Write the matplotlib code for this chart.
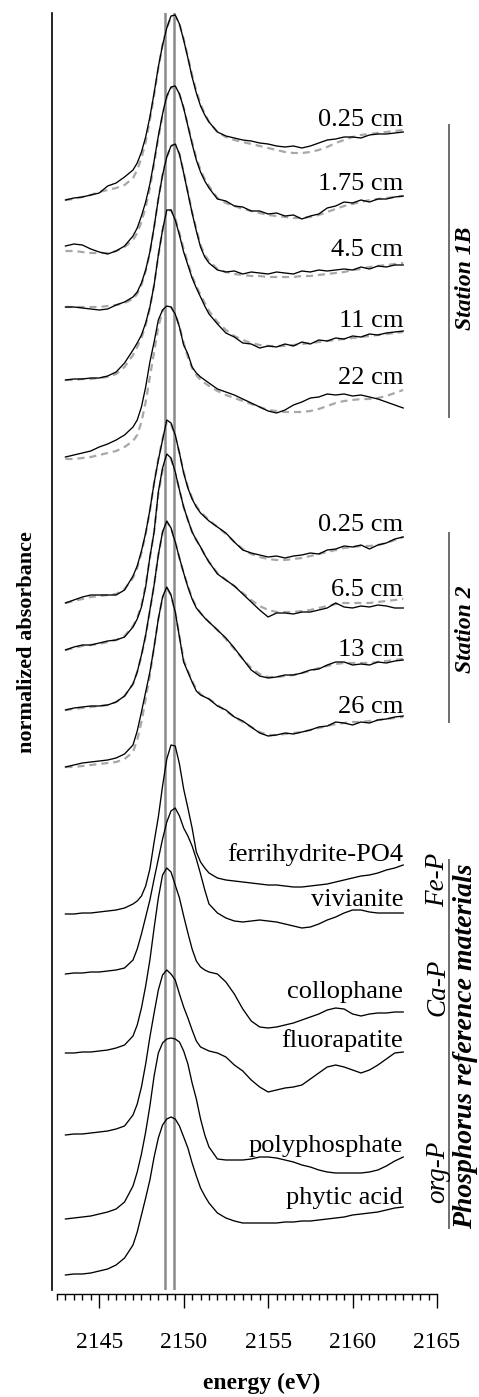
import numpy as np
import matplotlib
matplotlib.use('Agg')
import matplotlib.pyplot as plt

plt.rcParams['font.family'] = ['Liberation Serif', 'DejaVu Serif']

# ---------------- data ----------------
energy = [2143, 2143.5, 2144, 2144.5, 2145, 2145.5, 2146, 2146.5,
          2147, 2147.25, 2147.5, 2147.75, 2148, 2148.25, 2148.5, 2148.75, 2149, 2149.25, 2149.5,
          2149.75, 2150, 2150.25, 2150.5, 2150.75, 2151, 2151.25, 2151.5,
          2152, 2152.5, 2153, 2153.5, 2154, 2154.5, 2155, 2155.5, 2156, 2156.5, 2157, 2157.5,
          2158, 2158.5, 2159, 2159.5, 2160, 2160.5, 2161, 2161.5, 2162, 2162.5, 2163]

# normalized absorbance in units of 0.01 (relative to each spectrum's start)
st1b_025 = [0, 2, 3, 5, 7, 14, 17, 23,
            30, 37, 48, 63, 83, 107, 133, 155, 172, 184, 185, 176, 160, 142, 123, 107, 94, 85, 78,
            68, 64, 62, 60, 59, 57, 56, 54, 53, 54, 52, 54, 57, 60, 61, 63, 63, 62, 65, 66, 66, 67, 68]
st1b_025_fit = [0, 1, 3, 5, 8, 10, 12, 15,
                22, 30, 42, 58, 80, 105, 132, 155, 172, 183, 184, 176, 161, 143, 125, 109, 96, 86, 78,
                68, 63, 60, 58, 56, 54, 52, 50, 48, 47, 47, 48, 50, 53, 57, 60, 63, 65, 66, 67, 68, 69, 70]
st1b_175 = [0, 2, 1, -3, -6, -8, -5, 0,
            10, 18, 30, 44, 62, 85, 110, 132, 150, 159, 160, 152, 138, 120, 102, 86, 74, 65, 58,
            47, 45, 40, 39, 35, 35, 32, 33, 30, 31, 27, 30, 32, 38, 40, 44, 43, 46, 44, 47, 47, 49, 50]
st1b_175_fit = [-5, -5, -6, -7, -7, -7, -5, -1,
                6, 13, 24, 39, 58, 82, 108, 131, 149, 158, 159, 152, 138, 121, 104, 88, 76, 67, 60,
                48, 43, 40, 37, 35, 33, 31, 30, 29, 28, 28, 29, 31, 34, 37, 40, 42, 44, 46, 47, 48, 49, 50]
st1b_45 = [0, 0, -1, -2, -3, -2, 2, 5,
           10, 15, 24, 37, 55, 80, 108, 132, 150, 161, 163, 153, 134, 114, 94, 76, 60, 50, 44,
           37, 35, 36, 33, 35, 34, 33, 35, 34, 33, 36, 35, 37, 36, 37, 38, 37, 40, 38, 41, 40, 42, 42]
st1b_45_fit = [0, 0, 0, 0, 0, 1, 2, 4,
               8, 13, 22, 36, 54, 80, 108, 132, 150, 161, 163, 153, 135, 115, 95, 78, 62, 52, 46,
               38, 35, 33, 32, 31, 31, 30, 30, 30, 30, 31, 31, 32, 33, 34, 35, 37, 38, 40, 41, 42, 43, 44]
st1b_11 = [0, 1, 1, 2, 2, 4, 8, 17,
           30, 37, 45, 57, 73, 95, 125, 150, 170, 170, 160, 145, 128, 115, 102, 92, 83, 74, 66,
           56, 47, 43, 37, 36, 32, 34, 33, 36, 34, 38, 36, 40, 39, 42, 41, 44, 43, 46, 45, 47, 48, 49]
st1b_11_fit = [0, 0, 1, 1, 2, 3, 6, 13,
               25, 33, 42, 55, 72, 95, 124, 150, 169, 170, 162, 147, 131, 117, 104, 94, 85, 77, 69,
               58, 50, 44, 40, 37, 35, 34, 34, 34, 35, 36, 37, 38, 39, 40, 41, 42, 43, 44, 45, 46, 47, 48]
st1b_22 = [0, 2, 4, 6, 10, 13, 17, 22,
           30, 37, 50, 70, 95, 115, 137, 147, 151, 150, 143, 130, 112, 103, 90, 84, 80, 77, 74,
           68, 65, 62, 58, 54, 50, 46, 44, 47, 52, 55, 59, 60, 63, 62, 63, 61, 62, 60, 58, 55, 52, 49]
st1b_22_fit = [-2, -2, -1, 0, 2, 4, 6, 10,
               16, 22, 35, 55, 80, 105, 130, 146, 151, 150, 143, 131, 114, 100, 89, 82, 77, 74, 71,
               66, 62, 59, 56, 53, 50, 47, 46, 45, 45, 45, 46, 48, 51, 54, 56, 57, 58, 58, 59, 61, 64, 67]

st2_025 = [0, 3, 6, 8, 8, 8, 8, 13,
           27, 37, 52, 70, 93, 120, 143, 163, 183, 180, 168, 150, 130, 115, 104, 96, 90, 86, 82,
           76, 70, 61, 53, 50, 48, 46, 47, 45, 47, 48, 50, 49, 53, 54, 57, 56, 58, 54, 58, 60, 64, 66]
st2_025_fit = [0, 2, 4, 6, 7, 8, 9, 14,
               25, 35, 50, 69, 92, 120, 144, 164, 181, 179, 167, 150, 131, 116, 105, 97, 91, 87, 83,
               76, 69, 61, 54, 49, 46, 44, 43, 43, 44, 45, 47, 49, 51, 53, 55, 56, 57, 57, 58, 60, 63, 66]
st2_65 = [0, 3, 5, 5, 7, 9, 10, 13,
          23, 31, 43, 63, 93, 118, 158, 182, 196, 192, 178, 160, 143, 130, 118, 110, 103, 95, 88,
          76, 70, 64, 56, 48, 40, 33, 37, 37, 36, 38, 38, 40, 42, 47, 43, 42, 44, 43, 45, 44, 42, 42]
st2_65_fit = [0, 2, 4, 5, 6, 8, 10, 14,
              24, 32, 45, 65, 92, 118, 156, 180, 194, 191, 177, 160, 143, 130, 118, 110, 103, 95, 88,
              77, 70, 64, 57, 50, 44, 40, 38, 38, 38, 39, 40, 42, 44, 46, 47, 47, 47, 47, 48, 49, 50, 51]
st2_13 = [0, 2, 3, 4, 4, 5, 8, 14,
          26, 38, 55, 75, 100, 125, 155, 178, 189, 182, 168, 152, 137, 123, 111, 102, 97, 92, 88,
          80, 72, 62, 51, 40, 34, 32, 33, 35, 35, 37, 40, 41, 45, 48, 48, 45, 46, 45, 48, 47, 49, 50]
st2_13_fit = [0, 1, 2, 3, 4, 5, 8, 14,
              26, 38, 54, 74, 99, 125, 155, 177, 188, 182, 168, 152, 137, 124, 112, 103, 97, 92, 88,
              80, 71, 61, 51, 42, 36, 33, 33, 34, 35, 37, 39, 42, 44, 46, 47, 47, 47, 47, 48, 49, 50, 51]
st2_26 = [0, 2, 4, 5, 6, 7, 9, 13,
          22, 36, 55, 75, 95, 120, 148, 170, 180, 172, 155, 130, 105, 95, 85, 76, 72, 70, 68,
          61, 57, 50, 46, 40, 34, 31, 32, 34, 33, 35, 37, 40, 41, 45, 44, 42, 45, 44, 47, 48, 50, 51]
st2_26_fit = [0, 0, 1, 2, 3, 4, 5, 8,
              15, 27, 45, 68, 92, 120, 148, 169, 179, 172, 155, 131, 107, 96, 86, 78, 73, 70, 68,
              62, 56, 50, 45, 40, 35, 32, 32, 33, 34, 35, 37, 39, 41, 43, 44, 45, 45, 46, 47, 48, 49, 50]

ferrihydrite = [0, 0, 1, 1, 2, 3, 4, 6,
                10, 13, 18, 28, 45, 72, 97, 128, 155, 169, 168, 150, 125, 106, 86, 62, 52, 46, 41,
                36, 34, 33, 32, 31, 30, 29, 29, 28, 27, 27, 28, 29, 30, 32, 34, 36, 38, 39, 41, 44, 46, 49]
vivianite = [0, 1, 1, 2, 2, 3, 4, 6,
             14, 25, 40, 57, 74, 95, 115, 135, 152, 163, 166, 158, 146, 138, 128, 115, 100, 84, 70,
             61, 56, 53, 52, 53, 54, 53, 52, 50, 48, 46, 47, 50, 54, 57, 61, 64, 64, 62, 61, 61, 61, 61]
collophane = [0, 0, 1, 1, 2, 3, 5, 8,
              17, 28, 45, 67, 93, 125, 155, 178, 185, 181, 168, 155, 137, 120, 104, 92, 86, 83, 81,
              79, 71, 59, 44, 32, 26, 25, 26, 28, 30, 33, 36, 39, 43, 45, 44, 39, 37, 39, 40, 40, 41, 41]
fluorapatite = [0, 1, 1, 2, 3, 4, 6, 9,
                20, 31, 48, 71, 98, 122, 145, 160, 165, 161, 155, 141, 128, 117, 105, 94, 88, 86, 84,
                82, 78, 70, 64, 55, 48, 43, 45, 47, 48, 50, 56, 62, 68, 70, 68, 65, 62, 65, 70, 76, 82, 83]
polyphosphate = [0, 1, 2, 3, 5, 7, 10, 17,
                 33, 47, 65, 87, 113, 143, 166, 176, 180, 181, 180, 177, 168, 155, 136, 120, 100, 84, 72,
                 60, 59, 59, 59, 60, 62, 62, 61, 59, 57, 54, 52, 49, 47, 46, 46, 46, 46, 47, 49, 53, 58, 62]
phytic_acid = [0, 1, 1, 2, 4, 6, 10, 17,
               30, 43, 60, 77, 95, 118, 137, 150, 156, 158, 156, 149, 138, 127, 112, 99, 87, 79, 72,
               62, 57, 54, 52, 52, 52, 52, 52, 53, 53, 54, 54, 55, 56, 57, 58, 60, 61, 62, 63, 65, 67, 68]

sample_labels = ['0.25 cm', '1.75 cm', '4.5 cm', '11 cm', '22 cm',
                 '0.25 cm', '6.5 cm', '13 cm', '26 cm']
samples = [st1b_025, st1b_175, st1b_45, st1b_11, st1b_22, st2_025, st2_65, st2_13, st2_26]
fits = [st1b_025_fit, st1b_175_fit, st1b_45_fit, st1b_11_fit, st1b_22_fit,
        st2_025_fit, st2_65_fit, st2_13_fit, st2_26_fit]
ref_labels = ['ferrihydrite-PO4', 'vivianite', 'collophane', 'fluorapatite', 'polyphosphate', 'phytic acid']
refs = [ferrihydrite, vivianite, collophane, fluorapatite, polyphosphate, phytic_acid]
# vertical stacking offsets (units of 0.01)
sample_offsets = [1090, 1044, 983, 910, 833, 687, 640, 580, 523]
ref_offsets = [376, 316, 237, 155, 71, 15]
marker_energies = [2148.9, 2149.4]

# ---------------- layout ----------------
sample_label_y = [11.64, 11.00, 10.34, 9.63, 9.06, 7.59, 6.94, 6.34, 5.77]
ref_label_y = [4.29, 3.84, 2.92, 2.43, 1.38, 0.86]

W, H = 479, 1397
fig = plt.figure(figsize=(W / 100, H / 100), dpi=100)
ax = fig.add_axes([57 / W, 107 / H, 380 / W, 1277 / H])
ax.set_xlim(2142.5, 2165)
ax.set_ylim(0, 12.77)

E = np.array(energy)
for xv in marker_energies:
    ax.axvline(xv, color='#8a8a8a', lw=1.8, zorder=1)

for s, f, off in zip(samples, fits, sample_offsets):
    ax.plot(E, (np.array(f) + off) / 100, color='#a8a8a8', lw=1.6,
            ls=(0, (3.2, 2.2)), zorder=2)
    ax.plot(E, (np.array(s) + off) / 100, color='black', lw=0.95, zorder=3)

for r, off in zip(refs, ref_offsets):
    ax.plot(E, (np.array(r) + off) / 100, color='black', lw=0.95, zorder=3)

for lab, y in zip(sample_labels, sample_label_y):
    ax.text(2163.0, y, lab, ha='right', va='baseline', fontsize=19)
for lab, y in zip(ref_labels, ref_label_y):
    ax.text(2163.0, y, lab, ha='right', va='baseline', fontsize=19)

# group bars and labels
bar_x = 2165.71
for y0, y1 in [(11.65, 8.73), (7.57, 5.68), (4.30, 0.62)]:
    ax.plot([bar_x, bar_x], [y0, y1], color='#6e6e6e', lw=1.4, clip_on=False)
ax.text(2166.66, 10.12, 'Station 1B', rotation=90, ha='center', va='center',
        fontsize=17, fontweight='bold', fontstyle='italic')
ax.text(2166.66, 6.61, 'Station 2', rotation=90, ha='center', va='center',
        fontsize=17, fontweight='bold', fontstyle='italic')
ax.text(2166.66, 2.44, 'Phosphorus reference materials', rotation=90, ha='center',
        va='center', fontsize=20, fontweight='bold', fontstyle='italic')
for lab, y in [('Fe-P', 4.10), ('Ca-P', 3.03), ('org-P', 1.18)]:
    ax.text(2165.06, y, lab, rotation=90, ha='center', va='center',
            fontsize=19.5, fontstyle='italic')

# axes styling
for sp in ['top', 'right']:
    ax.spines[sp].set_visible(False)
ax.spines['left'].set_position(('outward', 3.6))
ax.spines['bottom'].set_position(('outward', 2.9))
ax.spines['left'].set_linewidth(1.2)
ax.spines['bottom'].set_linewidth(1.0)
ax.tick_params(axis='y', left=False, labelleft=False)
ax.set_xticks([2145, 2150, 2155, 2160, 2165])
ax.set_xticks(np.arange(2142.5, 2165.01, 0.5), minor=True)
ax.tick_params(axis='x', which='major', direction='out', length=10, width=1.0,
               labelsize=17, pad=17)
ax.tick_params(axis='x', which='minor', direction='out', length=4.3, width=1.0)

fig.text(262 / W, 1 - 1383 / H, 'energy (eV)', ha='center', va='center',
         fontsize=17, fontweight='bold')
fig.text(27 / W, 1 - 642 / H, 'normalized absorbance', ha='center', va='center',
         rotation=90, fontsize=16, fontweight='bold')

fig.savefig('out.png', dpi=100)
